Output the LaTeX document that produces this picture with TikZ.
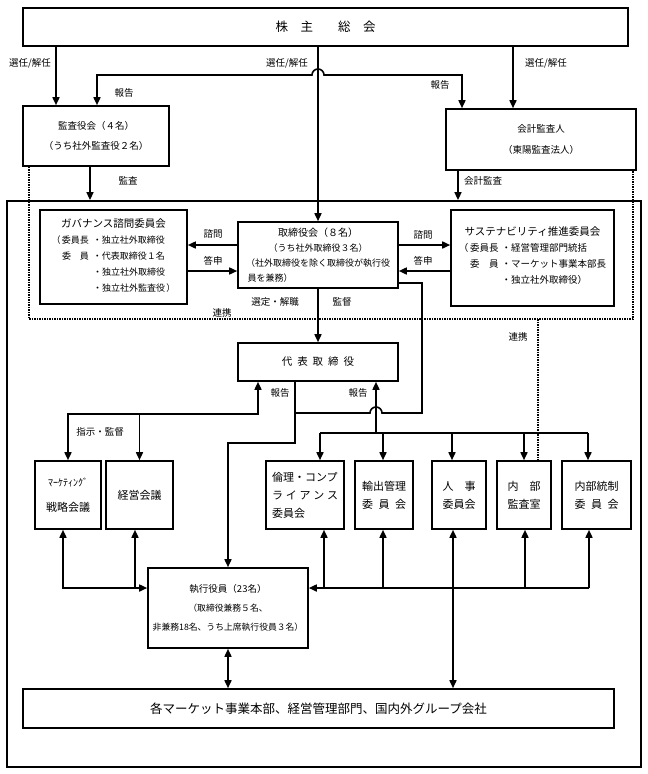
\documentclass[tikz,border=0pt]{standalone}
\usepackage{fontspec}
\setmainfont{Noto Sans CJK JP}
\usepackage{tikz}
\usetikzlibrary{arrows.meta, positioning, calc}

\tikzset{
  box/.style={draw, rectangle, line width=1.6pt, inner sep=2pt, align=center},
  lbl/.style={font=\fontsize{9.5}{10}\selectfont, inner sep=1pt},
  wire/.style={line width=1.6pt},
  arr/.style={-{Triangle[length=8pt, width=7pt]}, line width=1.6pt},
  arrs/.style={{Triangle[length=8pt, width=7pt]}-{Triangle[length=8pt, width=7pt]}, line width=1.6pt},
  link/.style={densely dotted, line width=1.5pt}
}

\begin{document}
\begin{tikzpicture}[x=1pt, y=-1pt]

    \useasboundingbox (0,0) rectangle (648,774);

    % Shareholders and auditors
    \node (gm) [box, minimum width=605pt, minimum height=38pt, font=\fontsize{12.5}{14}\selectfont] at (325.5,27) {株　主　　総　会};
    \node (kansa) [box, minimum width=146pt, minimum height=60pt, font=\fontsize{9.5}{20}\selectfont] at (96,136) {監査役会（４名）\\（うち社外監査役２名）};
    \node (kaikei) [box, minimum width=190pt, minimum height=61pt, font=\fontsize{9.5}{21}\selectfont] at (541,139.5) {会計監査人\\（東陽監査法人）};

    % Company frame
    \node (company) [box, line width=1.8pt, minimum width=634pt, minimum height=566pt] at (324,484) {};

    % Board and committees
    \node (board) [box, minimum width=160pt, minimum height=66pt, font=\fontsize{9}{15}\selectfont] at (318,255) {{\fontsize{10}{15}\selectfont 取締役会（８名）}\\（うち社外取締役３名）\\（社外取締役を除く取締役が執行役\\\makebox[144pt][l]{\,員を兼務）}};
    \node (gov) [box, minimum width=147pt, minimum height=94pt, font=\fontsize{9}{16}\selectfont] at (113.5,257) {{\fontsize{10.5}{16}\selectfont ガバナンス諮問委員会}\\
      \begin{tabular}[t]{@{}l@{\hspace{4pt}}l@{}}
        （\,委員長 & ・独立社外取締役\\
        \phantom{（\,}\makebox[3em]{委\hfill 員} & ・代表取締役１名\\
        & ・独立社外取締役\\
        & ・独立社外監査役\,）
      \end{tabular}};
    \node (sus) [box, minimum width=163pt, minimum height=96pt, font=\fontsize{9.5}{16}\selectfont] at (532.5,258) {{\fontsize{10.5}{16}\selectfont サステナビリティ推進委員会}\\
      \begin{tabular}[t]{@{}l@{\hspace{3pt}}l@{}}
        （\,委員長 & ・経営管理部門統括\\
        \phantom{（\,}\makebox[3em]{委\hfill 員} & ・マーケット事業本部長\\
        & ・独立社外取締役）
      \end{tabular}\\ \mbox{}};
    \node (ceo) [box, minimum width=160pt, minimum height=38pt, font=\fontsize{10.5}{12}\selectfont] at (318,362) {代\hspace{5pt}表\hspace{5pt}取\hspace{5pt}締\hspace{5pt}役};

    % Meetings and committees under the CEO
    \node (mkt) [box, minimum width=66pt, minimum height=68pt, font=\fontsize{11}{25}\selectfont] at (68,495) {{\fontsize{10}{25}\selectfont ﾏｰｹﾃｨﾝｸﾞ}\\戦略会議};
    \node (mgmt) [box, minimum width=67pt, minimum height=68pt, font=\fontsize{11}{18}\selectfont] at (139.5,495) {経営会議};
    \node (ethics) [box, align=left, minimum width=78pt, minimum height=68pt, font=\fontsize{11}{18}\selectfont] at (305,495) {倫理・コンプ\\\makebox[66pt][s]{ラ イ ア ン ス}\\委員会};
    \node (export) [box, minimum width=58pt, minimum height=68pt, font=\fontsize{11}{18}\selectfont] at (384,495) {輸出管理\\\makebox[44pt][s]{委 員 会}};
    \node (hr) [box, minimum width=54pt, minimum height=68pt, font=\fontsize{11}{18}\selectfont] at (459,495) {\makebox[33pt][s]{人 事}\\委員会};
    \node (audit) [box, minimum width=54pt, minimum height=68pt, font=\fontsize{11}{18}\selectfont] at (524,495) {\makebox[33pt][s]{内 部}\\監査室};
    \node (ic) [box, minimum width=69pt, minimum height=68pt, font=\fontsize{11}{18}\selectfont] at (596.5,495) {内部統制\\\makebox[44pt][s]{委 員 会}};

    % Executive officers and business units
    \node (execs) [box, minimum width=160pt, minimum height=80pt, font=\fontsize{8.8}{19}\selectfont] at (228,608) {{\fontsize{9.5}{19}\selectfont 執行役員（23名）}\\（取締役兼務５名、\\非兼務18名、うち上席執行役員３名）};
    \node (groups) [box, minimum width=591pt, minimum height=39pt, font=\fontsize{12.5}{14}\selectfont] at (318.5,708.5) {各マーケット事業本部、経営管理部門、国内外グループ会社};

    % Labels
    \node (sel1) [lbl] at (30,63) {選任/解任};
    \node (sel2) [lbl] at (287,63) {選任/解任};
    \node (sel3) [lbl] at (546,63) {選任/解任};
    \node (rep1) [lbl] at (124,93) {報告};
    \node (rep2) [lbl] at (440,85) {報告};
    \node (aud1) [lbl] at (128,181) {監査};
    \node (aud2) [lbl] at (483,181) {会計監査};
    \node (con1) [lbl] at (213,234) {諮問};
    \node (ans1) [lbl] at (213,261) {答申};
    \node (con2) [lbl] at (423,235) {諮問};
    \node (ans2) [lbl] at (423,261) {答申};
    \node (appt) [lbl] at (275,302) {選定・解職};
    \node (supv) [lbl] at (342,302) {監督};
    \node (link1) [lbl] at (222,313) {連携};
    \node (link2) [lbl] at (518,337) {連携};
    \node (rep3) [lbl] at (280,393) {報告};
    \node (rep4) [lbl] at (358,393) {報告};
    \node (instr) [lbl] at (100,432) {指示・監督};

    % Line corners and crossings
    \coordinate (hop1) at (318,75);
    \coordinate (rpt1) at (97,75);
    \coordinate (rpt2) at (462,75);
    \coordinate (sv) at (422,283);
    \coordinate (hop2) at (376,413);
    \coordinate (stem) at (295,443);
    \coordinate (rpL) at (258,414);
    \coordinate (rpR) at (376,433);
    \coordinate (dotL) at (29,319);
    \coordinate (dotR) at (633,319);
    \coordinate (dotM) at (538,319);
    \coordinate (bus) at (0,588);

    % Arrows from the shareholders meeting
    \draw[arr] (gm.south -| 56,0) -- (kansa.north -| 56,0);
    \draw[arr] (gm.south -| board.north) -- (board.north);
    \draw[arr] (gm.south -| 513,0) -- (kaikei.north -| 513,0);
    \draw[arrs] (kansa.north -| rpt1) |- ($(hop1)+(-6,0)$) arc[start angle=180, end angle=0, radius=6pt] -| (kaikei.north -| rpt2);

    % Audits
    \draw[arr] (kansa.south -| 90,0) -- (company.north -| 90,0);
    \draw[arr] (kaikei.south -| 458,0) -- (company.north -| 458,0);
    \draw[link] (kansa.south -| dotL) -- (dotL) -- (dotR) -- (kaikei.south -| dotR);
    \draw[link] (dotM) -- (audit.north -| dotM);

    % Board and committees
    \draw[arr] (board.west |- 0,245) -- (gov.east |- 0,245);
    \draw[arr] (gov.east |- 0,271) -- (board.west |- 0,271);
    \draw[arr] (board.east |- 0,245) -- (sus.west |- 0,245);
    \draw[arr] (sus.west |- 0,271) -- (board.east |- 0,271);
    \draw[arr] (board) -- (ceo);
    \draw[wire] (board.east |- sv) -- (sv) |- ($(hop2)+(6,0)$) arc[start angle=0, end angle=180, radius=6pt] -- (hop2 -| stem);
    \draw[arr] (ceo.south -| stem) -- (stem) -| (execs.north);

    % Reports to the CEO
    \draw[arrs] (ceo.south -| rpL) -- (rpL) -| (mkt.north);
    \draw[arr] (rpL -| mgmt.north) -- (mgmt.north);
    \draw[arr] (rpR) -- (ceo.south -| rpR);
    \draw[wire] (rpR -| 320,0) -- (rpR -| 588,0);
    \foreach \n/\x in {ethics/320, export/383, hr/452, audit/524, ic/588}
        \draw[arr] (rpR -| \x,0) -- (\n.north -| \x,0);

    % Executive officers
    \draw[arrs] (mkt.south -| 63,0) |- (bus -| execs.west);
    \draw[arr] (bus -| 135,0) -- (mgmt.south -| 135,0);
    \draw[arr] (bus -| 589,0) -- (bus -| execs.east);
    \foreach \n/\x in {ethics/324, export/383, audit/525, ic/589}
        \draw[arr] (bus -| \x,0) -- (\n.south -| \x,0);
    \draw[arrs] (hr.south -| 453,0) -- (groups.north -| 453,0);
    \draw[arrs] (execs.south) -- (groups.north -| execs.south);

\end{tikzpicture}
\end{document}
